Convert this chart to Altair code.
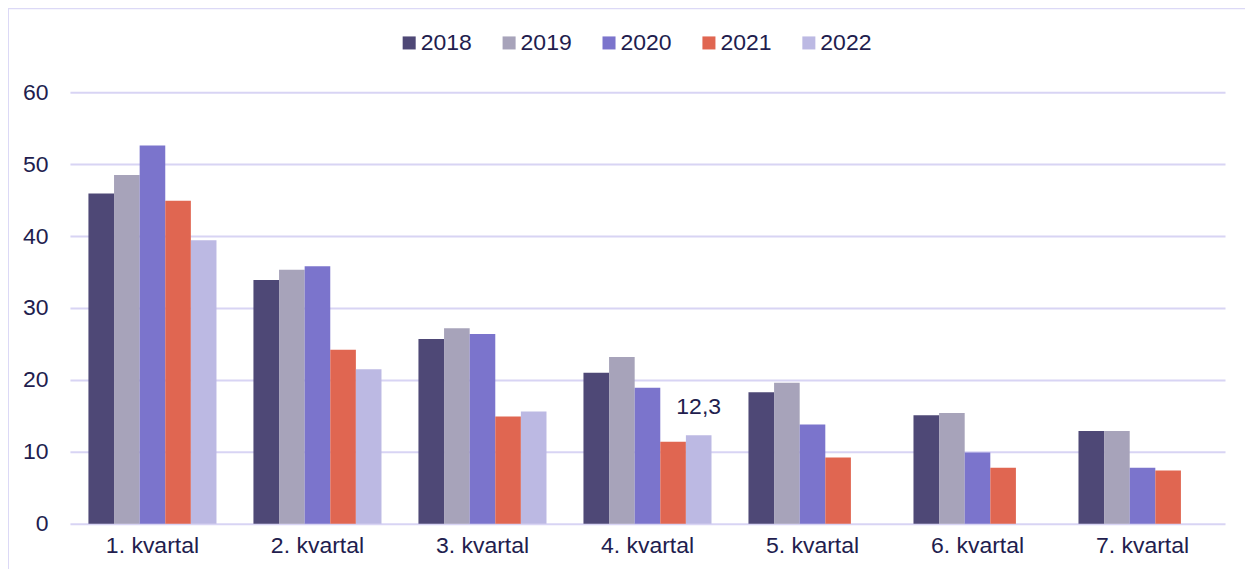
import altair as alt
import pandas as pd

quarters = ["1. kvartal", "2. kvartal", "3. kvartal", "4. kvartal", "5. kvartal", "6. kvartal", "7. kvartal"]
years = ["2018", "2019", "2020", "2021", "2022"]
v2018 = [45.9, 33.9, 25.7, 21.0, 18.3, 15.1, 12.9]
v2019 = [48.5, 35.3, 27.2, 23.2, 19.6, 15.4, 12.9]
v2020 = [52.6, 35.8, 26.4, 18.9, 13.8, 9.9, 7.8]
v2021 = [44.9, 24.2, 14.9, 11.4, 9.2, 7.8, 7.4]
v2022 = [39.4, 21.5, 15.6, 12.3, None, None, None]
colors = ["#4e4876", "#a7a3ba", "#7b74cc", "#e06651", "#bcb9e3"]

series = {"2018": v2018, "2019": v2019, "2020": v2020, "2021": v2021, "2022": v2022}
rows = []
for y in years:
    for q, v in zip(quarters, series[y]):
        if v is not None:
            rows.append({"kvartal": q, "år": y, "verdi": v})
df = pd.DataFrame(rows)

label_df = pd.DataFrame([{"kvartal": "4. kvartal", "år": "2022", "verdi": 12.3, "tekst": "12,3"}])

txt = "#221d4e"
font = "Liberation Sans"
fs = 23

x = alt.X("kvartal:N", sort=quarters,
          scale=alt.Scale(paddingInner=0.224, paddingOuter=0.112),
          axis=alt.Axis(title=None, labelAngle=0, domain=False, ticks=False,
                        labelPadding=11, labelFontSize=fs, labelColor=txt, labelFont=font))
xo = alt.XOffset("år:N", sort=years, scale=alt.Scale(paddingInner=0, paddingOuter=0))

bars = alt.Chart(df).mark_bar().encode(
    x=x,
    xOffset=xo,
    y=alt.Y("verdi:Q", scale=alt.Scale(domain=[0, 60]),
            axis=alt.Axis(title=None, values=[0, 10, 20, 30, 40, 50, 60], domain=False, ticks=False,
                          labelPadding=22, labelFontSize=fs, labelColor=txt, labelFont=font,
                          gridColor="#d8d4f4", gridWidth=2)),
    color=alt.Color("år:N", sort=years, scale=alt.Scale(domain=years, range=colors),
                    legend=alt.Legend(title=None, orient="none", direction="horizontal",
                                      legendX=328, legendY=-61, symbolType="square", symbolSize=170,
                                      symbolStrokeWidth=0, labelFontSize=fs, labelColor=txt,
                                      labelFont=font, labelOffset=0, columnPadding=25)),
)

labels = alt.Chart(label_df).mark_text(fontSize=fs, color=txt, font=font, baseline="bottom", dy=-16).encode(
    x=alt.X("kvartal:N", sort=quarters),
    xOffset=alt.XOffset("år:N", sort=years),
    y=alt.Y("verdi:Q"),
    text="tekst:N",
)

frame_top = alt.Chart(label_df).mark_rule(color="#dcd9f6", strokeWidth=2).encode(
    x=alt.value(-62), x2=alt.value(1200), y=alt.value(-84))
frame_left = alt.Chart(label_df).mark_rule(color="#dcd9f6", strokeWidth=2).encode(
    x=alt.value(-62), y=alt.value(-84), y2=alt.value(500))

chart = alt.layer(bars, labels, frame_top, frame_left).properties(
    width=1156, height=432,
    autosize=alt.AutoSizeParams(type="none"),
    padding={"left": 62, "top": 84, "right": 20, "bottom": 45},
).configure_view(stroke=None)

chart.save("out.html", embed_options={"renderer": "svg", "actions": False})
